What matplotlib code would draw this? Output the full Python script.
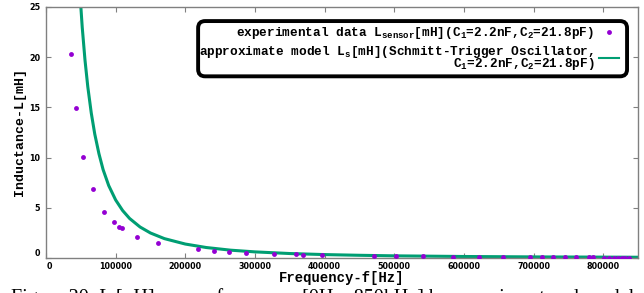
import matplotlib
matplotlib.use("Agg")
import matplotlib.pyplot as plt
from matplotlib.lines import Line2D
from matplotlib.patches import FancyBboxPatch
from matplotlib.transforms import ScaledTranslation, IdentityTransform

plt.rcParams['mathtext.fontset'] = 'custom'
plt.rcParams['mathtext.rm'] = 'Liberation Mono:bold'
plt.rcParams['mathtext.it'] = 'Liberation Mono:bold'
plt.rcParams['mathtext.bf'] = 'Liberation Mono:bold'

# experimental data
exp_f = [35900, 42600, 53200, 67500, 82800, 97200, 104900, 109200, 130300, 161400,
         218900, 240900, 263000, 287500, 327600, 358700, 368300, 397000, 471500, 502900,
         542000, 583800, 621000, 656000, 695400, 712000, 727500, 745700, 761000, 779000,
         786000, 800700, 808000, 815000, 822000, 827000, 832000, 836600]
exp_L = [20.35, 14.97, 10.09, 6.87, 4.61, 3.62, 3.12, 2.96, 2.12, 1.46,
         0.86, 0.73, 0.60, 0.50, 0.42, 0.37, 0.33, 0.27, 0.20, 0.18,
         0.15, 0.12, 0.10, 0.09, 0.07, 0.07, 0.06, 0.06, 0.05, 0.05,
         0.05, 0.04, 0.04, 0.04, 0.04, 0.03, 0.03, 0.03]

# approximate model curve
model_f = [48000, 52000, 56000, 60000, 65000, 70000, 76000, 82000, 90000, 100000,
           110000, 120000, 135000, 150000, 170000, 200000, 230000, 265000, 300000,
           350000, 400000, 450000, 500000, 600000, 700000, 850000]
model_L = [27.1, 23.0, 19.7, 17.06, 14.44, 12.35, 10.39, 8.8, 7.22, 5.78,
           4.73, 3.94, 3.09, 2.49, 1.93, 1.39, 1.045, 0.78, 0.61,
           0.445, 0.34, 0.27, 0.215, 0.15, 0.11, 0.075]

xticks = [0, 100000, 200000, 300000, 400000, 500000, 600000, 700000, 800000]
yticks = [0, 5, 10, 15, 20, 25]

label_exp = r"experimental data L$_{sensor}$[mH](C$_1$=2.2nF,C$_2$=21.8pF)"
label_model = ("approximate model L$_s$[mH](Schmitt-Trigger Oscillator,\n"
               "C$_1$=2.2nF,C$_2$=21.8pF)")

mono = 'Liberation Mono'
purple = '#9400D3'
green = '#009E73'
grey = '#808080'

fig = plt.figure(figsize=(6.44, 2.93), dpi=100)
ax = fig.add_axes([46/644, 1-258/293, 592/644, 251/293])

ax.plot(exp_f, exp_L, linestyle='none', marker='o', markersize=3.5,
        color=purple, markeredgewidth=0, zorder=3)
ax.plot(model_f, model_L, color=green, linewidth=2.2, zorder=2)

ax.set_xlim(0, 850000)
ax.set_ylim(0, 25)
ax.set_xticks(xticks, labels=[str(v) for v in xticks], fontweight='bold',
              family='DejaVu Sans', fontsize=5.8)
ax.set_yticks(yticks, labels=[str(v) for v in yticks], fontweight='bold',
              family='DejaVu Sans', fontsize=5.8)
ax.tick_params(direction='in', length=3.5, width=0.8, color=grey,
               top=True, right=True)
ax.tick_params(axis='x', pad=3)
ax.tick_params(axis='y', pad=4.3)
for s in ax.spines.values():
    s.set_color(grey)
    s.set_linewidth(1.0)

ax.set_xlabel('Frequency-f[Hz]', family=mono, fontweight='bold', fontsize=10,
              labelpad=0)
ax.set_ylabel('Inductance-L[mH]', family=mono, fontweight='bold', fontsize=9.5,
              labelpad=2)

# gnuplot-like offsets of the "0" labels
yt0 = ax.yaxis.get_major_ticks()[0].label1
yt0.set_transform(yt0.get_transform() + ScaledTranslation(0, 6/100, fig.dpi_scale_trans))
xt0 = ax.xaxis.get_major_ticks()[0].label1
xt0.set_transform(xt0.get_transform() + ScaledTranslation(3/100, 0, fig.dpi_scale_trans))

handles = [Line2D([], [], linestyle='none', marker='o', markersize=3.5,
                  color=purple, markeredgewidth=0),
           Line2D([], [], color=green, linewidth=1.5)]
leg = ax.legend(handles, [label_exp, label_model], loc='upper right',
                bbox_to_anchor=(0.968, 0.928), borderaxespad=0,
                markerfirst=False, frameon=False,
                prop={'family': mono, 'weight': 'bold', 'size': 9.2},
                handlelength=1.55, handletextpad=0.4, borderpad=0,
                labelspacing=0.2)
for t in leg.get_texts():
    t.set_multialignment('right')
    t.set_linespacing(0.7)

# gnuplot-style key box around the legend (text touches its left edge)
fig.canvas.draw()
bb = leg.get_window_extent(fig.canvas.get_renderer())
box = FancyBboxPatch((bb.x0 - 1, bb.y0 - 4), bb.width + 9, bb.height + 8,
                     boxstyle='round,pad=0,rounding_size=7',
                     transform=IdentityTransform(), facecolor='none',
                     edgecolor='black', linewidth=2.8, zorder=5)
fig.add_artist(box)

fig.text(11/644, 1-303/293,
         "Figure 20: L [\u03bcH] versus frequency [0Hz\u2212850kHz] by experiment and model",
         fontsize=14.5, family='Liberation Serif', va='baseline', ha='left')

fig.savefig('out.png', dpi=100)
